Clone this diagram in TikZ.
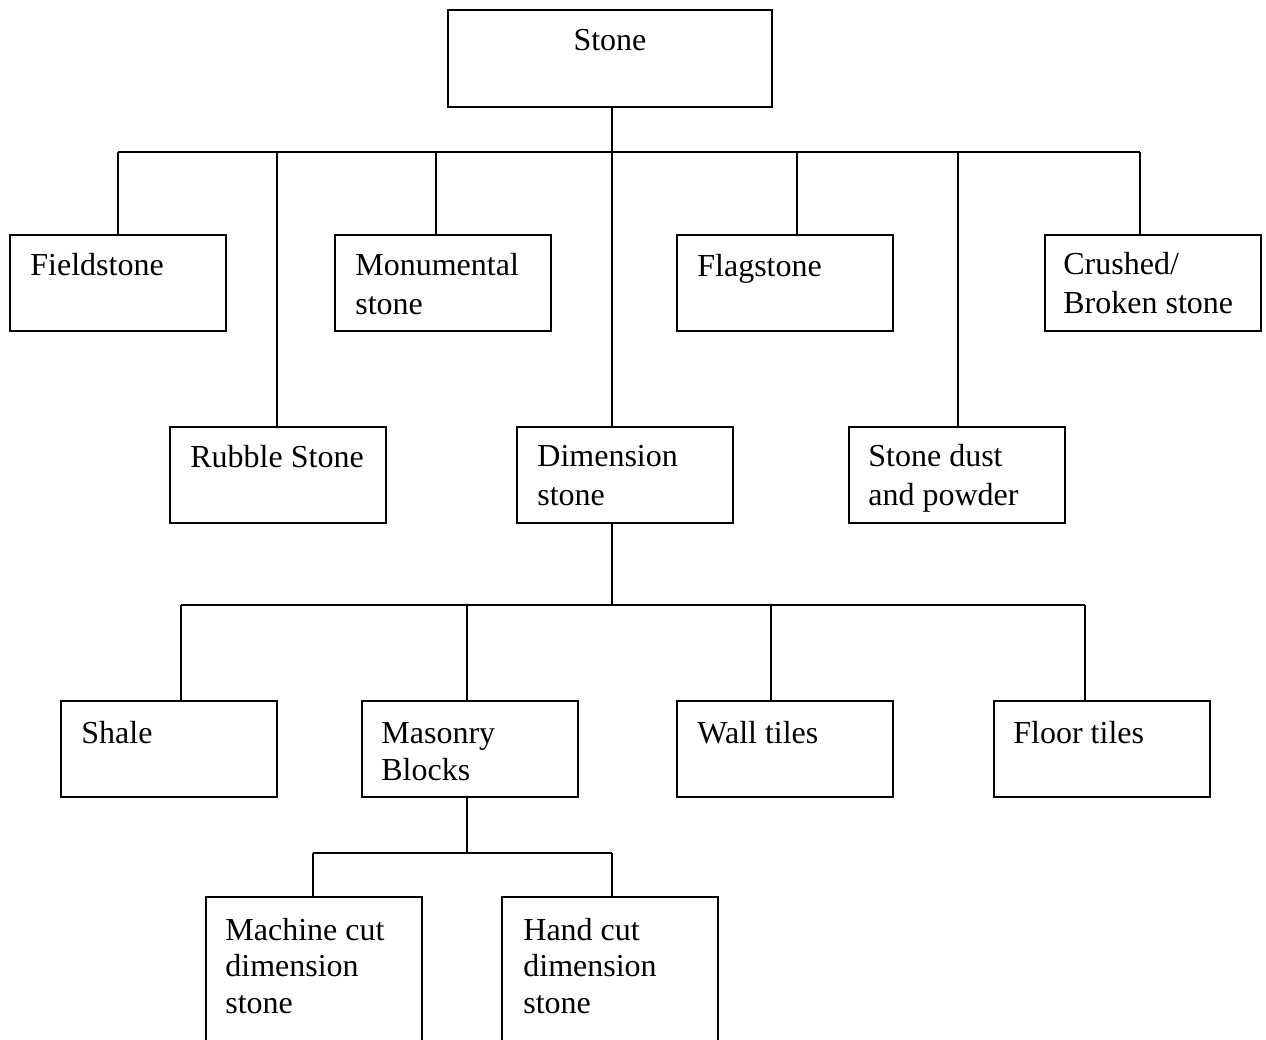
\documentclass[tikz,border=0pt]{standalone}
\usepackage{fontspec}
\setmainfont{Liberation Serif}
\begin{document}
\begin{tikzpicture}[x=0.5pt,y=-0.5pt,
  box/.style={draw, line width=1pt, rectangle, minimum width=108pt, minimum height=48pt, inner sep=0pt},
  lbl/.style={anchor=base west, inner sep=0pt, align=left, font=\fontsize{16}{19.5}\selectfont},
  conn/.style={line width=1pt}]
\useasboundingbox (0,0) rectangle (1266,1040);
\clip (0,0) rectangle (1266,1040);
% boxes
\node[box, minimum width=162pt, minimum height=48.5pt] (stone) at (610,58.5) {};
\node[box] (field) at (118,283) {};
\node[box] (monu) at (443,283) {};
\node[box] (flag) at (785,283) {};
\node[box] (crush) at (1152.5,283) {};
\node[box] (rubble) at (278,475) {};
\node[box] (dim) at (624.5,475) {};
\node[box] (dust) at (956.5,475) {};
\node[box] (shale) at (169,749) {};
\node[box] (mason) at (469.5,749) {};
\node[box] (wall) at (785,749) {};
\node[box] (floor) at (1101.5,749) {};
\node[box, minimum height=75pt] (machine) at (313.5,972) {};
\node[box, minimum height=75pt] (hand) at (610,972) {};
% labels (base anchor = baseline of the last line)
\node[lbl, anchor=base] (lstone) at (610,50) {Stone};
\node[lbl] (lfield) at (30,275) {Fieldstone};
\node[lbl] (lmonu) at (355,314) {Monumental\\stone};
\node[lbl] (lflag) at (697,276) {Flagstone};
\node[lbl] (lcrush) at (1063,313) {Crushed/\\Broken stone};
\node[lbl] (lrubble) at (190,467) {Rubble Stone};
\node[lbl] (ldim) at (537,505) {Dimension\\stone};
\node[lbl] (ldust) at (868,505) {Stone dust\\and powder};
\node[lbl] (lshale) at (81,743) {Shale};
\node[lbl, font=\fontsize{16}{18.5}\selectfont] (lmason) at (381,780) {Masonry\\Blocks};
\node[lbl] (lwall) at (697,743) {Wall tiles};
\node[lbl] (lfloor) at (1013,743) {Floor tiles};
\node[lbl, font=\fontsize{16}{18.25}\selectfont] (lmachine) at (225,1013) {Machine cut\\dimension\\stone};
\node[lbl, font=\fontsize{16}{18.25}\selectfont] (lhand) at (523,1013) {Hand cut\\dimension\\stone};
% level 1 connectors
\coordinate (j1) at (612,152);
\coordinate (a1) at (118,152);
\coordinate (a2) at (277,152);
\coordinate (a3) at (436,152);
\coordinate (a5) at (797,152);
\coordinate (a6) at (958,152);
\coordinate (a7) at (1140,152);
\draw[conn] (j1 |- stone.south) -- (j1) -- (j1 |- dim.north);
\draw[conn] (a1) -- (a7);
\draw[conn] (a1) -- (a1 |- field.north);
\draw[conn] (a2) -- (a2 |- rubble.north);
\draw[conn] (a3) -- (a3 |- monu.north);
\draw[conn] (a5) -- (a5 |- flag.north);
\draw[conn] (a6) -- (a6 |- dust.north);
\draw[conn] (a7) -- (a7 |- crush.north);
% level 2 connectors
\coordinate (j2) at (612,605);
\coordinate (b1) at (181,605);
\coordinate (b2) at (467,605);
\coordinate (b3) at (771,605);
\coordinate (b4) at (1085,605);
\draw[conn] (j2 |- dim.south) -- (j2);
\draw[conn] (b1) -- (b4);
\draw[conn] (b1) -- (b1 |- shale.north);
\draw[conn] (b2) -- (b2 |- mason.north);
\draw[conn] (b3) -- (b3 |- wall.north);
\draw[conn] (b4) -- (b4 |- floor.north);
% level 3 connectors
\coordinate (j3) at (467,853);
\coordinate (c1) at (313,853);
\coordinate (c2) at (612,853);
\draw[conn] (j3 |- mason.south) -- (j3);
\draw[conn] (c1) -- (c2);
\draw[conn] (c1) -- (c1 |- machine.north);
\draw[conn] (c2) -- (c2 |- hand.north);
\end{tikzpicture}
\end{document}
